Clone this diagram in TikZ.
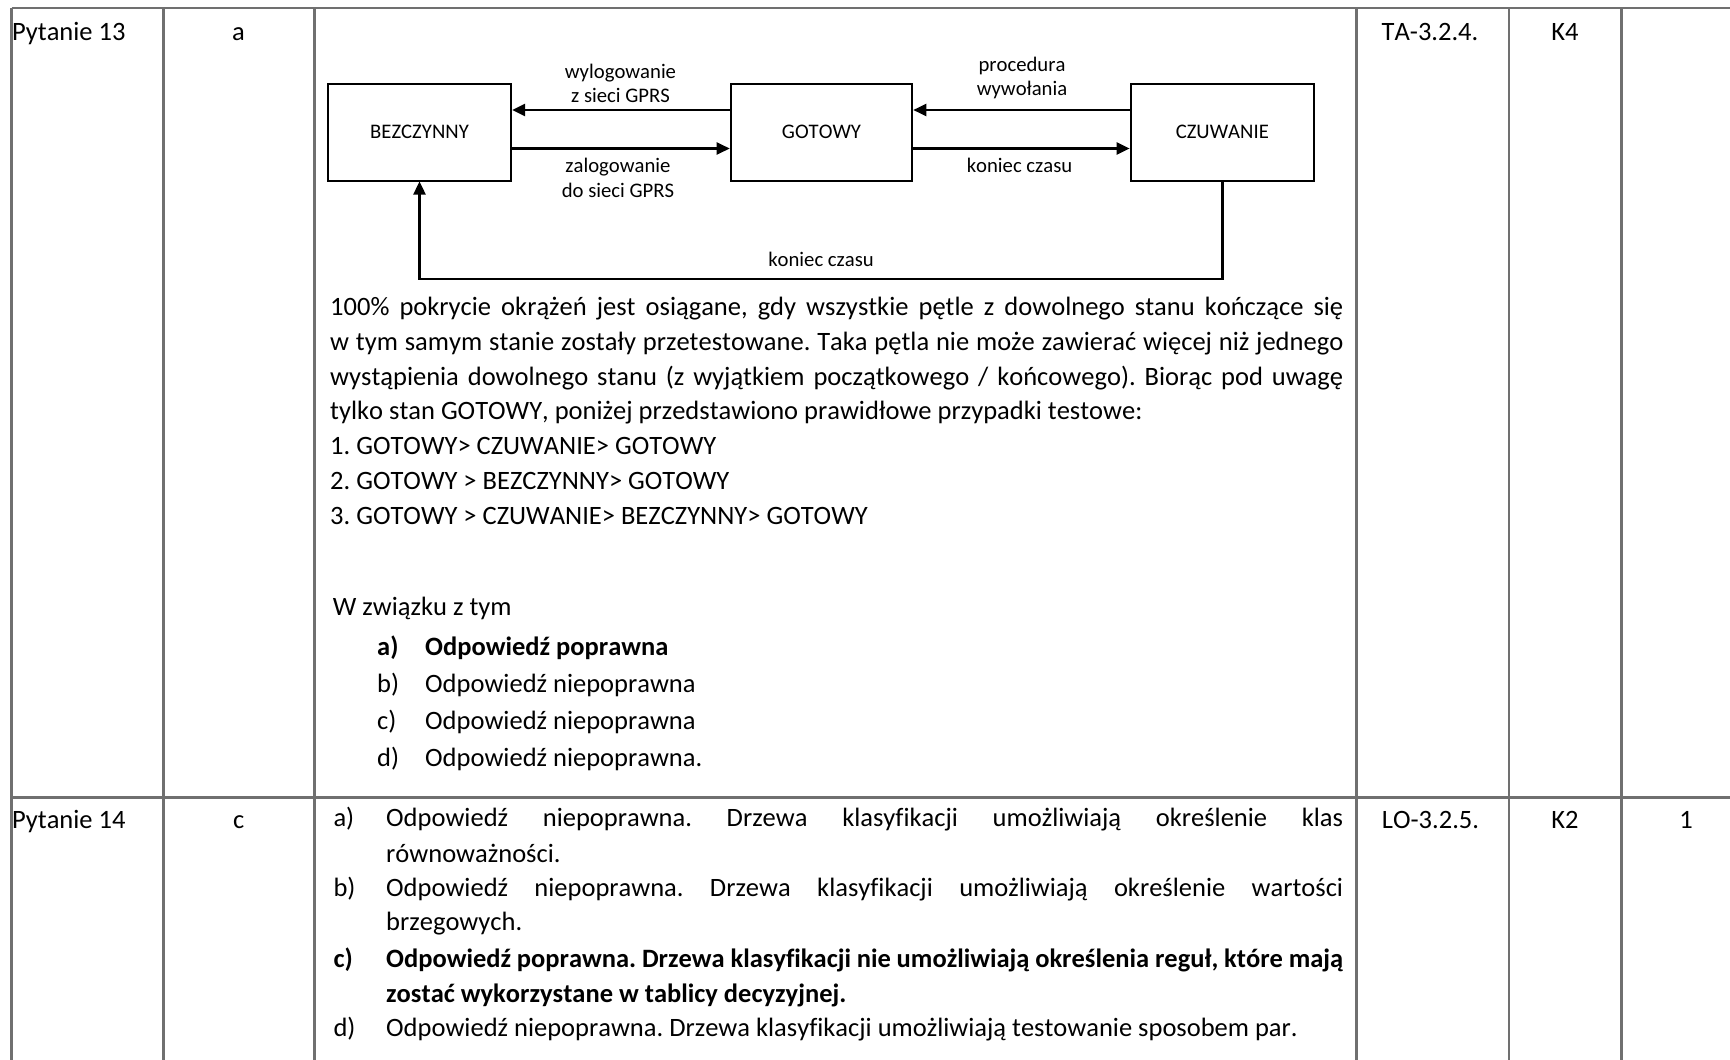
\documentclass[tikz,border=0pt]{standalone}
\usepackage{fontspec}
\setmainfont{Carlito}[Ligatures=CommonOff,Kerning=Off]
\usetikzlibrary{arrows.meta}
\definecolor{tabgray}{RGB}{112,112,112}
\newcommand\mainsz{\fontsize{26.5}{35}\selectfont}
\newcommand\dgsz{\fontsize{20.7}{24}\selectfont}
\newcommand\justl[2]{\hbox to #1{#2}}
\frenchspacing
\begin{document}
\begin{tikzpicture}[x=1pt,y=-1pt,
  grid/.style={draw=tabgray,line width=2.6pt},
  sepline/.style={draw=tabgray,line width=3.4pt},
  txt/.style={font=\mainsz,inner sep=0pt,anchor=base west},
  btxt/.style={font=\mainsz\bfseries,inner sep=0pt,anchor=base west},
  ctxt/.style={font=\mainsz,inner sep=0pt,anchor=base},
  dlab/.style={font=\dgsz,inner sep=0pt,anchor=base},
  stbox/.style={draw,line width=2pt,minimum height=97pt,inner sep=0pt,font=\dgsz},
  arr/.style={line width=2.4pt,-{Triangle[length=13pt,width=12pt]}}]
\useasboundingbox (0,0) rectangle (1730,1060);

% table grid
\draw[grid] (11.7,8) -- (1730,8);
\draw[sepline] (11.7,797.5) -- (1730,797.5);
\foreach \xx in {11.7,163.3,314.3,1356.7,1509,1621.7}
  \draw[grid] (\xx,8) -- (\xx,1060);

% row 1 cells
\node[txt] (q13) at (12,40) {Pytanie 13};
\node[ctxt] (a13) at (238.5,40) {a};
\node[ctxt] (lo13) at (1430,40) {TA-3.2.4.};
\node[ctxt] (k13) at (1565,40) {K4};

% state diagram
\node[stbox,minimum width=183.2pt] (bez) at (419.5,132) {BEZCZYNNY};
\node[stbox,minimum width=181.6pt] (got) at (821.5,132) {GOTOWY};
\node[stbox,minimum width=183.3pt] (czu) at (1222.3,132) {CZUWANIE};
\coordinate (up) at (0,110);
\coordinate (lo) at (0,148.5);
\coordinate (lp) at (820,279);
\draw[arr] (got.west |- up) -- (bez.east |- up);
\draw[arr] (bez.east |- lo) -- (got.west |- lo);
\draw[arr] (czu.west |- up) -- (got.east |- up);
\draw[arr] (got.east |- lo) -- (czu.west |- lo);
\draw[arr] (czu.south) |- (lp) -| (bez.south);

\node[dlab] (wyl1) at (620.5,78) {wylogowanie};
\node[dlab] (wyl2) at (620.5,102) {z sieci GPRS};
\node[dlab] (zal1) at (618,172.5) {zalogowanie};
\node[dlab] (zal2) at (618,197) {do sieci GPRS};
\node[dlab] (pro1) at (1022,71) {procedura};
\node[dlab] (pro2) at (1022,95) {wywołania};
\node[dlab] (kc1) at (1019.5,172.3) {koniec czasu};
\node[dlab] (kc2) at (821,266.5) {koniec czasu};

% row 1 text
\node[txt] (p1) at (330,315) {\justl{1013pt}{100\% pokrycie okrążeń jest osiągane, gdy wszystkie pętle z dowolnego stanu kończące się}};
\node[txt] (p2) at (330,350) {\justl{1013pt}{w tym samym stanie zostały przetestowane. Taka pętla nie może zawierać więcej niż jednego}};
\node[txt] (p3) at (330,385) {\justl{1013pt}{wystąpienia dowolnego stanu (z wyjątkiem początkowego / końcowego). Biorąc pod uwagę}};
\node[txt] (p4) at (330,419.5) {tylko stan GOTOWY, poniżej przedstawiono prawidłowe przypadki testowe:};
\node[txt] (p5) at (330,454) {1. GOTOWY> CZUWANIE> GOTOWY};
\node[txt] (p6) at (330,489) {2. GOTOWY > BEZCZYNNY> GOTOWY};
\node[txt] (p7) at (330,524) {3. GOTOWY > CZUWANIE> BEZCZYNNY> GOTOWY};

\node[txt] (wz) at (332.7,615) {W związku z tym};
\node[btxt] (la) at (377,655) {a)};
\node[btxt] (ta) at (425,655) {Odpowiedź poprawna};
\node[txt] (lb) at (377,692) {b)};
\node[txt] (tb) at (425,692) {Odpowiedź niepoprawna};
\node[txt] (lc) at (377,729) {c)};
\node[txt] (tc) at (425,729) {Odpowiedź niepoprawna};
\node[txt] (ld) at (377,766) {d)};
\node[txt] (td) at (425,766) {Odpowiedź niepoprawna.};

% row 2 cells
\node[txt] (q14) at (12,828) {Pytanie 14};
\node[ctxt] (a14) at (238.8,828) {c};
\node[ctxt] (lo14) at (1430.5,828) {LO-3.2.5.};
\node[ctxt] (k14) at (1565,828) {K2};
\node[ctxt] (pt14) at (1686,828) {1};

\node[txt] (ma) at (333.3,826.5) {a)};
\node[txt] (na1) at (386,826.5) {\justl{957pt}{Odpowiedź niepoprawna. Drzewa klasyfikacji umożliwiają określenie klas}};
\node[txt] (na2) at (386,862) {równoważności.};
\node[txt] (mb) at (333.3,896) {b)};
\node[txt] (nb1) at (386,896) {\justl{957pt}{Odpowiedź niepoprawna. Drzewa klasyfikacji umożliwiają określenie wartości}};
\node[txt] (nb2) at (386,930.5) {brzegowych.};
\node[btxt] (mc) at (333.3,967.5) {c)};
\node[btxt] (nc1) at (386,967.5) {\justl{957pt}{Odpowiedź poprawna. Drzewa klasyfikacji nie umożliwiają określenia reguł, które mają}};
\node[btxt] (nc2) at (386,1002) {zostać wykorzystane w tablicy decyzyjnej.};
\node[txt] (md) at (333.3,1036) {d)};
\node[txt] (nd1) at (386,1036) {Odpowiedź niepoprawna. Drzewa klasyfikacji umożliwiają testowanie sposobem par.};
\end{tikzpicture}
\end{document}
